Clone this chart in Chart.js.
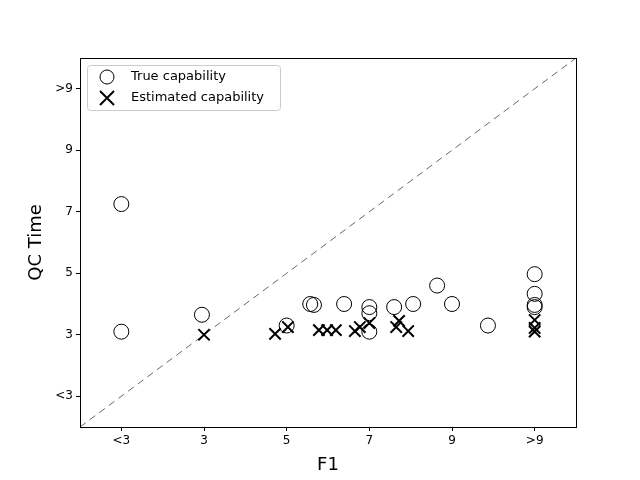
<!DOCTYPE html>
<html>
<head>
<meta charset="utf-8">
<script src="https://cdn.jsdelivr.net/npm/chart.js@4/dist/chart.umd.min.js"></script>
<style>
  body { margin: 0; background: #fff; }
  #wrap { width: 640px; height: 480px; }
</style>
</head>
<body>
<div id="wrap"><canvas id="qcChart" width="640" height="480"></canvas></div>
<script>
// tick positions: 1 = "<3", 11 = ">9"
const tickValues = [1, 3, 5, 7, 9, 11];
const tickLabels = ['<3', '3', '5', '7', '9', '>9'];

const trueX = [1, 1, 2.95, 5, 5.57, 5.66, 6.39, 7, 7, 7, 7.6, 8.06, 8.64, 9, 9.87, 11, 11, 11, 11];
const trueY = [7.25, 3.1, 3.65, 3.3, 4.0, 3.97, 4.0, 3.9, 3.7, 3.1, 3.9, 4.0, 4.6, 4.0, 3.3, 4.97, 4.33, 3.97, 3.9];

const estX = [3, 4.72, 5.03, 5.78, 5.98, 6.19, 6.65, 6.77, 7, 7.65, 7.72, 7.94, 11, 11, 11];
const estY = [3.0, 3.03, 3.25, 3.15, 3.15, 3.15, 3.12, 3.25, 3.38, 3.25, 3.45, 3.12, 3.48, 3.22, 3.1];

const diagonal = [0, 12];

const toPoints = (xs, ys) => xs.map((x, i) => ({ x: x, y: ys[i] }));

// frame + matplotlib-style legend box in the upper left of the plot
const legendBox = {
    id: 'legendBox',
    afterDraw(chart) {
        const ctx = chart.ctx;
        const a = chart.chartArea;
        ctx.save();
        ctx.strokeStyle = '#000';
        ctx.lineWidth = 1;
        ctx.strokeRect(a.left + 0.5, a.top + 0.5, a.right - a.left, a.bottom - a.top);
        const x0 = a.left + 7, y0 = a.top + 7;
        ctx.fillStyle = 'rgba(255,255,255,0.8)';
        ctx.strokeStyle = '#ccc';
        ctx.beginPath();
        ctx.roundRect(x0 + 0.5, y0 + 0.5, 193, 45, 3);
        ctx.fill();
        ctx.stroke();
        ctx.strokeStyle = '#000';
        ctx.beginPath();
        ctx.arc(x0 + 20, y0 + 12, 7, 0, Math.PI * 2);
        ctx.stroke();
        ctx.lineWidth = 2;
        ctx.beginPath();
        ctx.moveTo(x0 + 13, y0 + 26); ctx.lineTo(x0 + 27, y0 + 40);
        ctx.moveTo(x0 + 27, y0 + 26); ctx.lineTo(x0 + 13, y0 + 40);
        ctx.stroke();
        ctx.fillStyle = '#000';
        ctx.font = '13px "DejaVu Sans"';
        ctx.textBaseline = 'middle';
        ctx.fillText('True capability', x0 + 44, y0 + 12);
        ctx.fillText('Estimated capability', x0 + 44, y0 + 33);
        ctx.restore();
    }
};

const fixTicks = scale => { scale.ticks = tickValues.map(v => ({ value: v })); };
const tickLabel = v => { const i = tickValues.indexOf(v); return i >= 0 ? tickLabels[i] : ''; };

new Chart(document.getElementById('qcChart').getContext('2d'), {
    type: 'scatter',
    data: {
        datasets: [
            {
                label: 'diag',
                data: toPoints(diagonal, diagonal),
                showLine: true,
                borderColor: '#000',
                borderWidth: 0.6,
                borderDash: [7, 5],
                pointRadius: 0
            },
            {
                label: 'True capability',
                data: toPoints(trueX, trueY),
                pointStyle: 'circle',
                pointRadius: 7.5,
                backgroundColor: 'rgba(0,0,0,0)',
                borderColor: '#000',
                borderWidth: 1
            },
            {
                label: 'Estimated capability',
                data: toPoints(estX, estY),
                pointStyle: 'crossRot',
                pointRadius: 8,
                borderColor: '#000',
                borderWidth: 2
            }
        ]
    },
    options: {
        responsive: false,
        animation: false,
        layout: { padding: { top: 58, right: 64, left: 22, bottom: 0 } },
        plugins: { legend: { display: false }, tooltip: { enabled: false } },
        scales: {
            x: {
                type: 'linear', min: 0, max: 12,
                afterBuildTicks: fixTicks,
                afterFit: s => { s.height = 53; },
                grid: { display: true, drawOnChartArea: false, tickLength: 4, color: '#000' },
                border: { color: '#000', width: 1 },
                ticks: { color: '#000', font: { family: 'DejaVu Sans', size: 12 }, callback: tickLabel, autoSkip: false, maxRotation: 0 },
                title: { display: true, text: 'F1', color: '#000', font: { family: 'DejaVu Sans', size: 18 }, padding: { top: 2 } }
            },
            y: {
                type: 'linear', min: 0, max: 12,
                afterBuildTicks: fixTicks,
                afterFit: s => { s.width = 58; },
                grid: { display: true, drawOnChartArea: false, tickLength: 4, color: '#000' },
                border: { color: '#000', width: 1 },
                ticks: { color: '#000', font: { family: 'DejaVu Sans', size: 12 }, callback: tickLabel, autoSkip: false },
                title: { display: true, text: 'QC Time', color: '#000', font: { family: 'DejaVu Sans', size: 18 } }
            }
        }
    },
    plugins: [legendBox]
});
</script>
</body>
</html>
